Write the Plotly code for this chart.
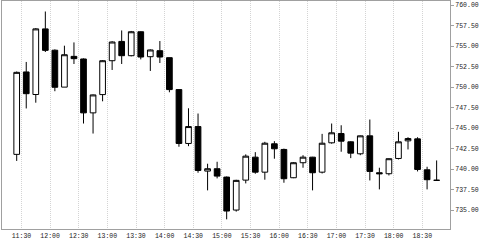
import plotly.graph_objects as go
import pandas as pd

start = "2020-01-01 11:25"
times = pd.date_range(start, periods=45, freq="10min")

opens = [741.8, 751.85, 749.1, 757.1, 754.5, 750.0, 753.75, 753.43, 746.86, 749.09,
         753.22, 755.57, 753.83, 756.75, 753.71, 754.44, 753.59, 749.7, 743.13, 745.19,
         739.76, 740.05, 739.03, 735.01, 738.66, 741.46, 739.63, 743.09, 742.4, 738.95,
         740.78, 741.46, 739.63, 743.21, 744.34, 743.33, 741.87, 744.06, 739.56, 739.44,
         741.3, 743.45, 743.69, 739.92, 738.63]
highs = [751.9, 753.07, 757.2, 759.22, 754.6, 755.05, 755.45, 753.5, 749.1, 753.3,
         755.6, 756.91, 756.85, 756.8, 754.6, 755.62, 753.6, 749.7, 747.42, 746.78,
         740.66, 740.9, 739.1, 738.7, 741.8, 742.07, 743.33, 743.41, 742.5, 740.85,
         741.7, 741.5, 744.3, 745.56, 745.35, 743.4, 744.1, 746.05, 740.17, 741.3,
         744.55, 743.89, 743.89, 740.29, 741.06]
lows = [741.0, 747.4, 748.1, 754.28, 749.5, 750.0, 752.82, 745.56, 744.34, 748.27,
        752.09, 752.82, 753.75, 753.38, 751.97, 752.94, 749.37, 742.73, 742.8, 739.56,
        737.41, 738.87, 733.88, 734.82, 738.26, 739.44, 738.71, 741.27, 738.34, 738.9,
        740.17, 737.41, 739.47, 743.1, 742.12, 741.34, 741.7, 738.62, 737.53, 739.23,
        741.18, 742.4, 739.72, 737.53, 738.6]
closes = [751.8, 749.2, 757.1, 754.48, 749.98, 753.95, 753.47, 746.86, 749.05, 753.22,
          755.5, 753.83, 756.75, 753.67, 754.53, 753.67, 749.7, 743.13, 745.19, 739.84,
          740.05, 739.15, 734.89, 738.63, 741.58, 739.63, 743.16, 742.48, 738.83, 740.78,
          741.46, 739.56, 743.16, 744.43, 743.41, 741.95, 744.06, 739.72, 739.44, 741.27,
          743.33, 743.73, 739.96, 738.71, 738.64]

tick_vals = pd.date_range("2020-01-01 11:30", "2020-01-01 18:30", freq="30min")
tick_text = [t.strftime("%H:%M") for t in tick_vals]
y_ticks = [735.0, 737.5, 740.0, 742.5, 745.0, 747.5, 750.0, 752.5, 755.0, 757.5, 760.0]

fig = go.Figure(go.Candlestick(
    x=times, open=opens, high=highs, low=lows, close=closes,
    increasing=dict(line=dict(color="black", width=1), fillcolor="white"),
    decreasing=dict(line=dict(color="black", width=1), fillcolor="black"),
    whiskerwidth=0,
))

fig.update_layout(
    width=480, height=241,
    margin=dict(l=2, r=30, t=1, b=12),
    paper_bgcolor="white", plot_bgcolor="white",
    showlegend=False,
    boxgap=0.15,
    font=dict(family="Liberation Mono", size=6.5, color="#222222"),
)
fig.update_xaxes(
    type="date",
    range=["2020-01-01 11:09:36", "2020-01-01 18:59:00"],
    tickvals=list(tick_vals), ticktext=tick_text,
    showgrid=True, gridcolor="#d4d4d4", griddash="1px,1px", gridwidth=1,
    showline=True, linecolor="#a0a0a0", linewidth=1, mirror=True,
    ticks="", rangeslider=dict(visible=False),
    tickfont=dict(family="Liberation Mono", size=6.5, color="#222222"),
)
fig.update_yaxes(
    side="right",
    range=[732.7, 760.5],
    tickvals=y_ticks, ticktext=[f"{v:.2f}" for v in y_ticks],
    showgrid=False, zeroline=False,
    showline=True, linecolor="#a0a0a0", linewidth=1, mirror=True,
    ticks="outside", ticklen=3, tickcolor="#a0a0a0",
    tickfont=dict(family="Liberation Mono", size=6.5, color="#222222"),
)

fig.write_html("out.html")
